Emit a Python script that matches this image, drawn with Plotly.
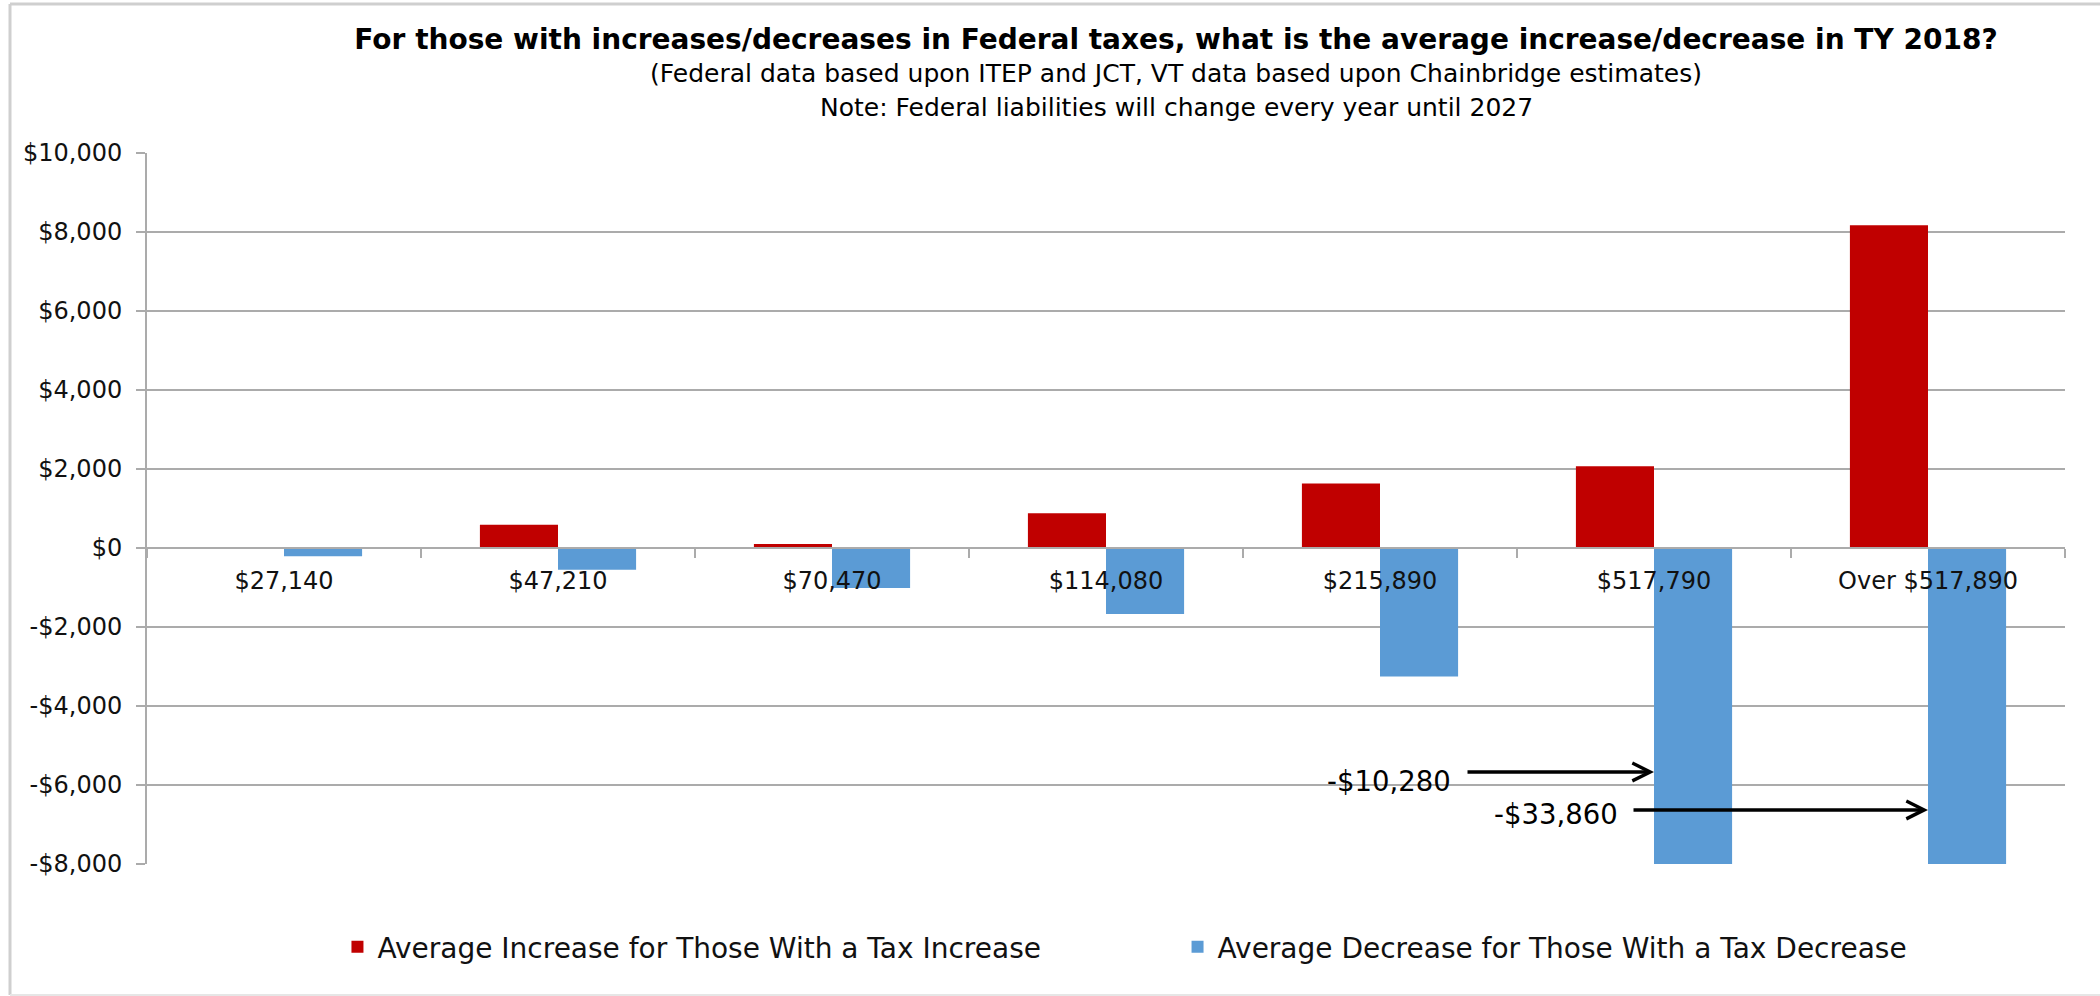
import plotly.graph_objects as go

# Income brackets (upper bound of each group)
brackets = ["$27,140", "$47,210", "$70,470", "$114,080", "$215,890", "$517,790", "Over $517,890"]

# Average federal tax change, TY 2018 (dollars)
avg_increase = [0, 590, 100, 880, 1630, 2070, 8170]
avg_decrease = [-210, -550, -1010, -1670, -3250, -10280, -33860]

increase_name = "Average Increase for Those With a Tax Increase"
decrease_name = "Average Decrease for Those With a Tax Decrease"

y_ticks = [10000, 8000, 6000, 4000, 2000, 0, -2000, -4000, -6000, -8000]
y_tick_labels = ["$10,000", "$8,000", "$6,000", "$4,000", "$2,000", "$0",
                 "-$2,000", "-$4,000", "-$6,000", "-$8,000"]
y_min, y_max = -8000, 10000

RED = "#C00000"
BLUE = "#5B9BD5"
GRID = "#ababab"
FONT = "DejaVu Sans"
TXT = "#111111"

fig = go.Figure()
fig.add_trace(go.Bar(x=brackets, y=avg_increase, name=increase_name, showlegend=True,
                     marker=dict(color=RED, line=dict(width=0)), legend="legend"))
fig.add_trace(go.Bar(x=brackets, y=avg_decrease, name=decrease_name, showlegend=True,
                     marker=dict(color=BLUE, line=dict(width=0)), legend="legend2"))

# x axis sits on the zero line of the value axis
zero_pos = (0 - y_min) / (y_max - y_min)

fig.update_layout(
    width=2100, height=996,
    margin=dict(l=147, r=35, t=153, b=132),
    paper_bgcolor="white", plot_bgcolor="white",
    barmode="group", bargap=0.43, bargroupgap=0,
    showlegend=True,
    font=dict(family=FONT, color=TXT),
    title=dict(
        text="<b>For those with increases/decreases in Federal taxes, what is the average increase/decrease in TY 2018?</b>",
        font=dict(family=FONT, size=28, color="#000000"),
        x=0.56, xanchor="center", xref="container",
        y=1 - 39 / 996, yanchor="middle", yref="container",
    ),
    xaxis=dict(
        type="category", anchor="free", position=zero_pos,
        showline=True, linecolor=GRID, linewidth=2,
        ticks="outside", tickson="boundaries", ticklen=9, tickcolor=GRID, tickwidth=1.5,
        showgrid=False, zeroline=False,
        tickfont=dict(family=FONT, size=24, color=TXT), ticklabelstandoff=11,
    ),
    yaxis=dict(
        range=[y_min, y_max], tickvals=y_ticks, ticktext=y_tick_labels,
        showline=True, linecolor=GRID, linewidth=2,
        ticks="outside", ticklen=9, tickcolor=GRID, tickwidth=1.5,
        showgrid=True, gridcolor=GRID, gridwidth=2, zeroline=False,
        tickfont=dict(family=FONT, size=24, color=TXT), ticklabelstandoff=9,
    ),
    legend=dict(orientation="h", x=0.0993, xanchor="left", y=-0.1167, yanchor="middle",
                font=dict(family=FONT, size=28, color=TXT), bgcolor="rgba(0,0,0,0)"),
    legend2=dict(orientation="h", x=0.5373, xanchor="left", y=-0.1167, yanchor="middle",
                 font=dict(family=FONT, size=28, color=TXT), bgcolor="rgba(0,0,0,0)"),
)

# subtitle lines
fig.add_annotation(text="(Federal data based upon ITEP and JCT, VT data based upon Chainbridge estimates)",
                   xref="paper", yref="paper", x=(1176 - 147) / 1918, y=(864 - 74) / 711,
                   xanchor="center", yanchor="middle", showarrow=False,
                   font=dict(family=FONT, size=25, color="#000000"))
fig.add_annotation(text="Note: Federal liabilities will change every year until 2027",
                   xref="paper", yref="paper", x=(1176 - 147) / 1918, y=(864 - 107) / 711,
                   xanchor="center", yanchor="middle", showarrow=False,
                   font=dict(family=FONT, size=25, color="#000000"))

# call-outs for the bars that run off the bottom of the axis
callouts = [
    (brackets[5], avg_decrease[5], -5670, -188, -201, -9),
    (brackets[6], avg_decrease[6], -6630, -296, -308, -4),
]
for cat, val, ypos, tail, text_shift, text_yshift in callouts:
    fig.add_annotation(x=cat, y=ypos, xref="x", yref="y", text="",
                       showarrow=True, ax=tail, ay=0, axref="pixel", ayref="pixel",
                       arrowhead=5, arrowsize=1, arrowwidth=3.5, arrowcolor="#000000",
                       standoff=0)
    fig.add_annotation(x=cat, y=ypos, xref="x", yref="y",
                       text="-${:,}".format(abs(val)), showarrow=False,
                       xanchor="right", yanchor="middle", xshift=text_shift, yshift=text_yshift,
                       font=dict(family=FONT, size=27.5, color="#000000"))

# outer chart frame: left, top and bottom edges
frame_left = (10 - 147) / 1918
frame_bottom = (864 - 995) / 711
frame_top = (864 - 4) / 711
frame_line = dict(color="#cfcfcf", width=3)
fig.add_shape(type="line", xref="paper", yref="paper", x0=frame_left, x1=frame_left,
              y0=frame_bottom, y1=frame_top, line=frame_line, layer="below")
fig.add_shape(type="line", xref="paper", yref="paper", x0=frame_left, x1=1.05,
              y0=frame_top, y1=frame_top, line=frame_line, layer="below")
fig.add_shape(type="line", xref="paper", yref="paper", x0=frame_left, x1=1.05,
              y0=frame_bottom, y1=frame_bottom, line=dict(color="#e6e6e6", width=2), layer="below")

fig.write_html("out.html")
